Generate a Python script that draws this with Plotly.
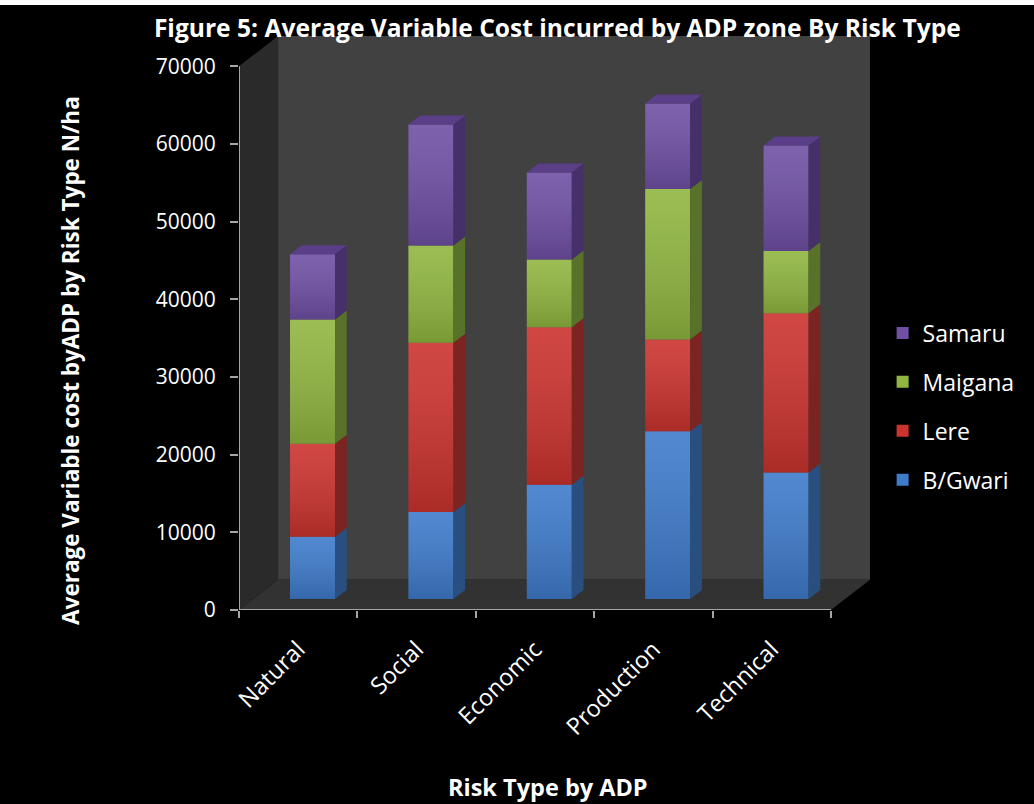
import plotly.graph_objects as go

# Risk categories and ADP zones
categories = ["Natural", "Social", "Economic", "Production", "Technical"]
zones = ["B/Gwari", "Lere", "Maigana", "Samaru"]

# Average variable cost (N/ha) per zone and risk type
b_gwari = [8000, 11200, 14700, 21600, 16300]
lere = [12000, 21800, 20300, 11800, 20500]
maigana = [16000, 12500, 8700, 19400, 8000]
samaru = [8400, 15600, 11200, 11000, 13600]

y_ticks = [0, 10000, 20000, 30000, 40000, 50000, 60000, 70000]

# colours: front face, side face, top face
palette = {
    "B/Gwari": ("#3e7bcb", "#294f80", "#33619f"),
    "Lere": ("#cb332f", "#7b2421", "#a02a27"),
    "Maigana": ("#90b640", "#58722a", "#779636"),
    "Samaru": ("#6f50a4", "#46306a", "#5a3f88"),
}

# oblique projection of the 3-D box (data units)
X0, XN = -0.5, 4.5
WALL_DX, WALL_DY = 0.33, 3900
Y_TOP = 70000
BAR_W = 0.38
FRONT_DX, FRONT_DY = 0.121, 1415     # bar front face sits part-way into the floor
BAR_DX, BAR_DY = 0.099, 1160         # bar depth

fig = go.Figure()

series = [("B/Gwari", b_gwari), ("Lere", lere), ("Maigana", maigana), ("Samaru", samaru)]
n = len(categories)
cum = [0] * n
for rank, (name, vals) in enumerate(series):
    front, side, top = palette[name]
    base = [c + FRONT_DY for c in cum]
    fig.add_trace(go.Bar(
        x=[i + FRONT_DX for i in range(n)], y=vals, base=base, width=BAR_W,
        marker=dict(color=front, line=dict(width=0)),
        name=name, legendgroup=name, legendrank=10 - rank, hoverinfo="skip",
    ))
    for i in range(n):
        xl = i + FRONT_DX - BAR_W / 2
        xr = i + FRONT_DX + BAR_W / 2
        y0 = base[i]
        y1 = y0 + vals[i]
        # shading over the front face
        fig.add_trace(go.Scatter(
            x=[xl, xr, xr, xl, xl], y=[y0, y0, y1, y1, y0],
            mode="lines", line=dict(width=0), fill="toself",
            fillgradient=dict(type="vertical",
                              colorscale=[[0, "rgba(0,0,0,0.16)"], [1, "rgba(255,255,255,0.10)"]]),
            showlegend=False, hoverinfo="skip", legendgroup=name,
        ))
        # right side face
        fig.add_trace(go.Scatter(
            x=[xr, xr + BAR_DX, xr + BAR_DX, xr, xr],
            y=[y0, y0 + BAR_DY, y1 + BAR_DY, y1, y0],
            mode="lines", line=dict(width=0), fill="toself", fillcolor=side,
            showlegend=False, hoverinfo="skip", legendgroup=name,
        ))
    cum = [c + v for c, v in zip(cum, vals)]

# top face of each column
front, side, top = palette["Samaru"]
for i in range(n):
    xl = i + FRONT_DX - BAR_W / 2
    xr = i + FRONT_DX + BAR_W / 2
    yt = cum[i] + FRONT_DY
    fig.add_trace(go.Scatter(
        x=[xl, xr, xr + BAR_DX, xl + BAR_DX, xl],
        y=[yt, yt, yt + BAR_DY, yt + BAR_DY, yt],
        mode="lines", line=dict(width=0), fill="toself", fillcolor=top,
        showlegend=False, hoverinfo="skip",
    ))

XMAX = XN + WALL_DX
YMAX = Y_TOP + WALL_DY

def poly(pts):
    return "M " + " L ".join(f"{x},{y}" for x, y in pts) + " Z"

shapes = [
    # back wall
    dict(type="path", xref="x", yref="y", layer="below", line=dict(width=0), fillcolor="#414141",
         path=poly([(X0 + WALL_DX, WALL_DY), (XMAX, WALL_DY), (XMAX, YMAX), (X0 + WALL_DX, YMAX)])),
    # side wall
    dict(type="path", xref="x", yref="y", layer="below", line=dict(width=0), fillcolor="#2a2a2a",
         path=poly([(X0, 0), (X0 + WALL_DX, WALL_DY), (X0 + WALL_DX, YMAX), (X0, Y_TOP)])),
    # floor
    dict(type="path", xref="x", yref="y", layer="below", line=dict(width=0), fillcolor="#323232",
         path=poly([(X0, 0), (XN, 0), (XMAX, WALL_DY), (X0 + WALL_DX, WALL_DY)])),
    # axis lines
    dict(type="line", xref="x", yref="y", layer="above", x0=X0, x1=X0, y0=0, y1=Y_TOP,
         line=dict(color="#a6a6a6", width=2)),
    dict(type="line", xref="x", yref="y", layer="above", x0=X0, x1=XN, y0=0, y1=0,
         line=dict(color="#a6a6a6", width=2)),
    # white strip along the top edge
    dict(type="rect", xref="paper", yref="paper", layer="above", x0=-0.38, x1=1.27,
         y0=1.054, y1=1.07, line=dict(width=0), fillcolor="white"),
]

font = "Open Sans"
fig.update_layout(
    width=1034, height=804,
    margin=dict(l=239, r=164, t=36, b=194),
    paper_bgcolor="black", plot_bgcolor="black",
    barmode="overlay",
    shapes=shapes,
    font=dict(family=font, color="white", size=21),
    title=dict(text="<b>Figure 5: Average Variable Cost incurred by ADP zone By Risk Type</b>",
               x=0.539, xref="container", y=0.965, yref="container",
               xanchor="center", yanchor="middle",
               font=dict(family=font, size=24.6, color="white")),
    xaxis=dict(range=[X0, XMAX], tickvals=list(range(n)), ticktext=categories,
               tickangle=-45, ticks="", showgrid=False, zeroline=False, showline=False,
               ticklabelstandoff=20, tickfont=dict(size=23.5, color="white")),
    xaxis2=dict(range=[X0, XMAX], overlaying="x", anchor="y", side="bottom",
                tickvals=[X0 + k for k in range(n + 1)], ticks="outside", ticklen=7,
                tickwidth=2, tickcolor="#a6a6a6", showticklabels=False,
                showgrid=False, zeroline=False, showline=False),
    yaxis=dict(range=[0, YMAX], tickvals=y_ticks, ticktext=[str(v) for v in y_ticks],
               ticks="outside", ticklen=8, ticklabelstandoff=10,
               tickwidth=2, tickcolor="#a6a6a6", showgrid=False, zeroline=False,
               showline=False, tickfont=dict(size=21, color="white")),
    legend=dict(x=1.02, y=0.52, xanchor="left", yanchor="top",
                traceorder="grouped", tracegroupgap=16,
                font=dict(size=23, color="white"), bgcolor="rgba(0,0,0,0)"),
    annotations=[
        dict(text="<b>Average Variable cost byADP by Risk Type N/ha</b>", textangle=-90,
             x=-0.268, y=0.4355, xref="paper", yref="paper", showarrow=False,
             xanchor="center", yanchor="middle",
             font=dict(size=22.5, color="white", family=font)),
        dict(text="<b>Risk Type by ADP</b>", x=0.49, y=-0.308, xref="paper", yref="paper",
             showarrow=False, xanchor="center", yanchor="middle",
             font=dict(size=23.5, color="white", family=font)),
    ],
)

# a hidden trace binds the boundary tick axis
fig.add_trace(go.Scatter(x=[X0], y=[0], xaxis="x2", mode="markers",
                         marker=dict(opacity=0), showlegend=False, hoverinfo="skip"))

fig.write_html("out.html")
